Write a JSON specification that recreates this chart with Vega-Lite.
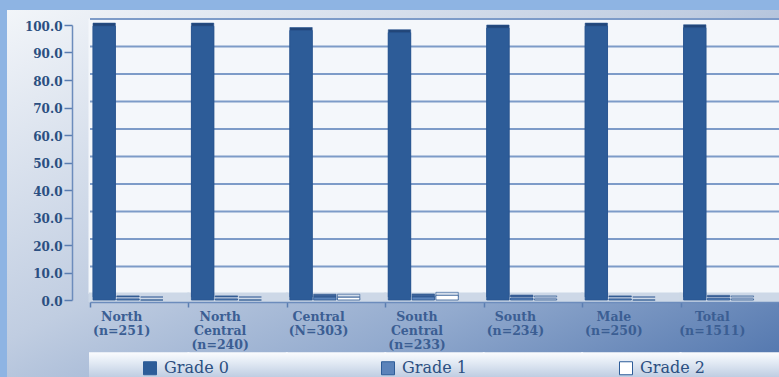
{
  "$schema": "https://vega.github.io/schema/vega-lite/v6.json",
  "width": 772,
  "height": 367,
  "autosize": {"type": "none"},
  "padding": {"left": 7, "top": 10, "right": 0, "bottom": 0},
  "background": "#8EB4E3",
  "view": {
    "stroke": null,
    "fill": {
      "gradient": "linear", "x1": 0, "y1": 0, "x2": 1, "y2": 1,
      "stops": [
        {"offset": 0, "color": "#F2F5F9"},
        {"offset": 0.45, "color": "#C0CDE1"},
        {"offset": 0.7, "color": "#92AACE"},
        {"offset": 1, "color": "#4E73AC"}
      ]
    }
  },
  "config": {"font": "DejaVu Serif"},
  "data": {
    "values": [
      {"cat": "North|(n=251)", "grade": "Grade 0", "pct": 99.6},
      {"cat": "North|(n=251)", "grade": "Grade 1", "pct": 0.4},
      {"cat": "North|(n=251)", "grade": "Grade 2", "pct": 0.0},
      {"cat": "North|Central|(n=240)", "grade": "Grade 0", "pct": 99.6},
      {"cat": "North|Central|(n=240)", "grade": "Grade 1", "pct": 0.4},
      {"cat": "North|Central|(n=240)", "grade": "Grade 2", "pct": 0.0},
      {"cat": "Central|(N=303)", "grade": "Grade 0", "pct": 98.0},
      {"cat": "Central|(N=303)", "grade": "Grade 1", "pct": 1.0},
      {"cat": "Central|(N=303)", "grade": "Grade 2", "pct": 1.0},
      {"cat": "South|Central|(n=233)", "grade": "Grade 0", "pct": 97.2},
      {"cat": "South|Central|(n=233)", "grade": "Grade 1", "pct": 1.1},
      {"cat": "South|Central|(n=233)", "grade": "Grade 2", "pct": 1.7},
      {"cat": "South|(n=234)", "grade": "Grade 0", "pct": 98.9},
      {"cat": "South|(n=234)", "grade": "Grade 1", "pct": 0.7},
      {"cat": "South|(n=234)", "grade": "Grade 2", "pct": 0.4},
      {"cat": "Male|(n=250)", "grade": "Grade 0", "pct": 99.6},
      {"cat": "Male|(n=250)", "grade": "Grade 1", "pct": 0.4},
      {"cat": "Male|(n=250)", "grade": "Grade 2", "pct": 0.0},
      {"cat": "Total|(n=1511)", "grade": "Grade 0", "pct": 99.0},
      {"cat": "Total|(n=1511)", "grade": "Grade 1", "pct": 0.6},
      {"cat": "Total|(n=1511)", "grade": "Grade 2", "pct": 0.4}
    ]
  },
  "encoding": {
    "x": {
      "field": "cat", "type": "nominal", "sort": null,
      "scale": {
        "domain": ["North|(n=251)", "North|Central|(n=240)", "Central|(N=303)", "South|Central|(n=233)", "South|(n=234)", "Male|(n=250)", "Total|(n=1511)"],
        "range": [83, 772], "paddingInner": 0, "paddingOuter": 0
      },
      "axis": {
        "orient": "bottom", "offset": -75, "title": null, "zindex": 1,
        "tickBand": "extent", "labelOffset": -18,
        "labelExpr": "isString(datum.value) ? split(datum.value, '|') : ''",
        "labelAngle": 0, "labelBaseline": "top", "labelPadding": 3, "labelLineHeight": 14,
        "labelFont": "DejaVu Serif", "labelFontWeight": "bold", "labelFontSize": 12.5,
        "labelColor": "#3B5E93", "labelOverlap": false, "labelLimit": 200, "labelBound": false,
        "tickColor": "#5A7DB0", "tickSize": 5, "tickWidth": 1.5,
        "domainColor": "#6C8CBC", "domainWidth": 1.5, "grid": false
      }
    },
    "y": {
      "field": "pct", "type": "quantitative",
      "scale": {"domain": [0, 100], "range": [290, 15], "nice": false, "zero": false},
      "axis": {
        "orient": "left", "offset": -65, "title": null, "grid": false, "zindex": 1,
        "values": [0, 10, 20, 30, 40, 50, 60, 70, 80, 90, 100], "tickCount": 11, "format": ".1f",
        "labelFont": "DejaVu Serif", "labelFontWeight": "bold", "labelFontSize": 12,
        "labelColor": "#2B4F81", "labelPadding": 2, "labelOffset": 1, "labelOverlap": false,
        "tickColor": "#5A7DB0", "tickSize": 8, "tickWidth": 1.5,
        "domainColor": "#6C8CBC", "domainWidth": 1.5
      }
    }
  },
  "layer": [
    {
      "transform": [{"filter": "datum.grade === 'Grade 0'"}],
      "mark": {"type": "bar", "fill": "#F4F7FB", "stroke": "#F4F7FB", "strokeWidth": 1, "width": {"band": 1.02}, "yOffset": -6, "y2Offset": -6},
      "encoding": {
        "y": {"datum": 100, "type": "quantitative",
          "scale": {"domain": [0, 100], "range": [290, 15], "nice": false, "zero": false},
          "axis": {
            "orient": "left", "offset": -65, "title": null, "grid": false, "zindex": 1,
            "values": [0, 10, 20, 30, 40, 50, 60, 70, 80, 90, 100], "tickCount": 11, "format": ".1f",
            "labelFont": "DejaVu Serif", "labelFontWeight": "bold", "labelFontSize": 12,
            "labelColor": "#2B4F81", "labelPadding": 2, "labelOffset": 1, "labelOverlap": false,
            "tickColor": "#5A7DB0", "tickSize": 8, "tickWidth": 1.5,
            "domainColor": "#6C8CBC", "domainWidth": 1.5
          }},
        "y2": {"datum": 0}
      }
    },
    {
      "data": {"values": [{"g": 10}, {"g": 20}, {"g": 30}, {"g": 40}, {"g": 50}, {"g": 60}, {"g": 70}, {"g": 80}, {"g": 90}, {"g": 100}]},
      "mark": {"type": "rule", "color": "#7D9BC8", "strokeWidth": 1.8, "yOffset": -6},
      "encoding": {
        "x": {"datum": "North|(n=251)", "type": "nominal", "bandPosition": 0,
          "scale": {
            "domain": ["North|(n=251)", "North|Central|(n=240)", "Central|(N=303)", "South|Central|(n=233)", "South|(n=234)", "Male|(n=250)", "Total|(n=1511)"],
            "range": [83, 772], "paddingInner": 0, "paddingOuter": 0
          },
          "axis": {
            "orient": "bottom", "offset": -75, "title": null, "zindex": 1,
            "tickBand": "extent", "labelOffset": -18,
            "labelExpr": "isString(datum.value) ? split(datum.value, '|') : ''",
            "labelAngle": 0, "labelBaseline": "top", "labelPadding": 3, "labelLineHeight": 14,
            "labelFont": "DejaVu Serif", "labelFontWeight": "bold", "labelFontSize": 12.5,
            "labelColor": "#3B5E93", "labelOverlap": false, "labelLimit": 200, "labelBound": false,
            "tickColor": "#5A7DB0", "tickSize": 5, "tickWidth": 1.5,
            "domainColor": "#6C8CBC", "domainWidth": 1.5, "grid": false
          }},
        "x2": {"value": "width"},
        "y": {"field": "g", "type": "quantitative",
          "scale": {"domain": [0, 100], "range": [290, 15], "nice": false, "zero": false},
          "axis": {
            "orient": "left", "offset": -65, "title": null, "grid": false, "zindex": 1,
            "values": [0, 10, 20, 30, 40, 50, 60, 70, 80, 90, 100], "tickCount": 11, "format": ".1f",
            "labelFont": "DejaVu Serif", "labelFontWeight": "bold", "labelFontSize": 12,
            "labelColor": "#2B4F81", "labelPadding": 2, "labelOffset": 1, "labelOverlap": false,
            "tickColor": "#5A7DB0", "tickSize": 8, "tickWidth": 1.5,
            "domainColor": "#6C8CBC", "domainWidth": 1.5
          }}
      }
    },
    {
      "transform": [{"filter": "datum.grade === 'Grade 0'"}],
      "mark": {"type": "bar", "fill": "#CDD8E7", "stroke": "#CDD8E7", "strokeWidth": 1, "width": {"band": 1.02}, "yOffset": -7, "y2Offset": 2},
      "encoding": {
        "y": {"datum": 0, "type": "quantitative",
          "scale": {"domain": [0, 100], "range": [290, 15], "nice": false, "zero": false},
          "axis": {
            "orient": "left", "offset": -65, "title": null, "grid": false, "zindex": 1,
            "values": [0, 10, 20, 30, 40, 50, 60, 70, 80, 90, 100], "tickCount": 11, "format": ".1f",
            "labelFont": "DejaVu Serif", "labelFontWeight": "bold", "labelFontSize": 12,
            "labelColor": "#2B4F81", "labelPadding": 2, "labelOffset": 1, "labelOverlap": false,
            "tickColor": "#5A7DB0", "tickSize": 8, "tickWidth": 1.5,
            "domainColor": "#6C8CBC", "domainWidth": 1.5
          }},
        "y2": {"datum": 0}
      }
    },
    {
      "transform": [{"filter": "datum.grade === 'Grade 0'"}],
      "mark": {"type": "bar", "width": {"band": 1.02}, "strokeWidth": 0,
        "fill": {"gradient": "linear", "x1": 0, "y1": 0, "x2": 0, "y2": 1,
          "stops": [{"offset": 0, "color": "#FBFCFE"}, {"offset": 0.35, "color": "#E6EDF6"}, {"offset": 1, "color": "#BFCDE2"}]}},
      "encoding": {
        "y": {"datum": -19, "type": "quantitative",
          "scale": {"domain": [0, 100], "range": [290, 15], "nice": false, "zero": false},
          "axis": {
            "orient": "left", "offset": -65, "title": null, "grid": false, "zindex": 1,
            "values": [0, 10, 20, 30, 40, 50, 60, 70, 80, 90, 100], "tickCount": 11, "format": ".1f",
            "labelFont": "DejaVu Serif", "labelFontWeight": "bold", "labelFontSize": 12,
            "labelColor": "#2B4F81", "labelPadding": 2, "labelOffset": 1, "labelOverlap": false,
            "tickColor": "#5A7DB0", "tickSize": 8, "tickWidth": 1.5,
            "domainColor": "#6C8CBC", "domainWidth": 1.5
          }},
        "y2": {"datum": -28}
      }
    },
    {
      "mark": {"type": "bar", "xOffset": 7, "yOffset": -3, "y2Offset": -3, "stroke": "#2A5590", "strokeWidth": 0.6},
      "encoding": {
        "xOffset": {"field": "grade", "type": "nominal", "scale": {"domain": ["Grade 0", "Grade 1", "Grade 2"], "range": [3, 73], "paddingInner": 0.06, "paddingOuter": 0}},
        "color": {
          "condition": [
            {"test": "datum.grade === 'Grade 2'", "value": "#D3DDEA"},
            {"test": "datum.grade === 'Grade 1'", "value": "#3E6399"}
          ],
          "value": "#224679"
        }
      }
    },
    {
      "mark": {"type": "bar", "stroke": "#2A5590", "strokeWidth": 0.8},
      "encoding": {
        "xOffset": {"field": "grade", "type": "nominal", "scale": {"domain": ["Grade 0", "Grade 1", "Grade 2"], "range": [3, 73], "paddingInner": 0.06, "paddingOuter": 0}},
        "color": {
          "field": "grade", "type": "nominal",
          "scale": {"domain": ["Grade 0", "Grade 1", "Grade 2"], "range": ["#2D5C98", "#5B83BA", "#FFFFFF"]},
          "legend": {
            "orient": "none", "legendX": 135, "legendY": 350, "direction": "horizontal",
            "columns": 3, "columnPadding": 150, "gridAlign": "all", "title": null,
            "symbolType": "square", "symbolSize": 169, "symbolStrokeColor": "#2D5C98", "symbolStrokeWidth": 1,
            "labelFont": "DejaVu Serif", "labelFontSize": 16, "labelColor": "#2B4F81", "labelOffset": 6, "labelLimit": 200
          }
        }
      }
    }
  ]
}
